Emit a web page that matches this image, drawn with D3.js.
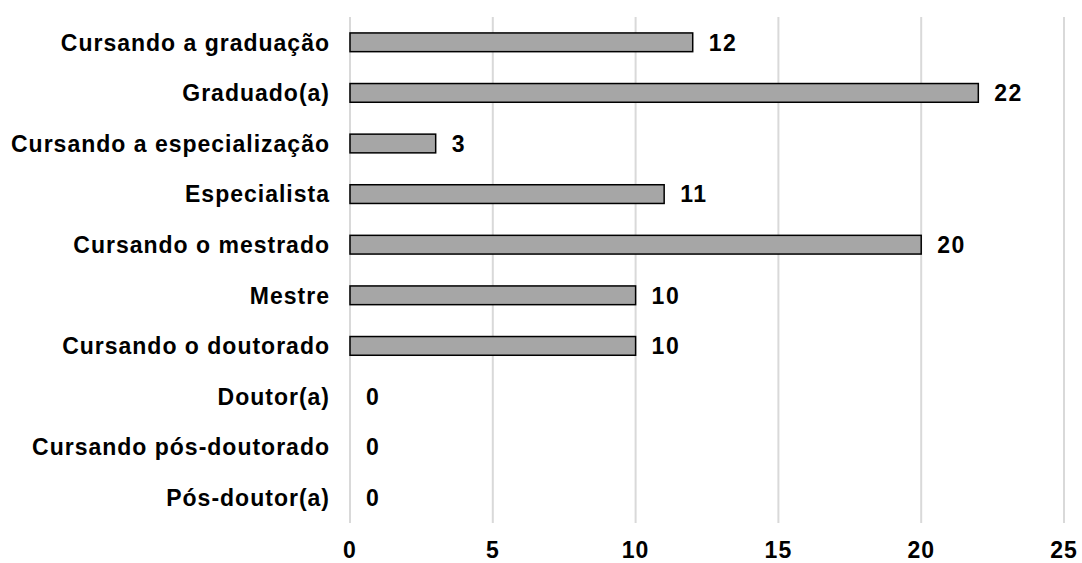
<!DOCTYPE html>
<html>
<head>
<meta charset="utf-8">
<script src="https://cdn.jsdelivr.net/npm/d3@7"></script>
<style>
  html, body { margin: 0; padding: 0; background: #fff; }
  text { font-family: "Liberation Sans", Arial, sans-serif; font-weight: bold; fill: #000; }
</style>
</head>
<body>
<svg id="chart" width="1082" height="563"></svg>
<script>
// categories top to bottom, and the counts
const categories = [
  "Cursando a graduação",
  "Graduado(a)",
  "Cursando a especialização",
  "Especialista",
  "Cursando o mestrado",
  "Mestre",
  "Cursando o doutorado",
  "Doutor(a)",
  "Cursando pós-doutorado",
  "Pós-doutor(a)"
];
const counts = [12, 22, 3, 11, 20, 10, 10, 0, 0, 0];
const xTicks = [0, 5, 10, 15, 20, 25];

const svg = d3.select("#chart");
const margin = { top: 17, right: 18, bottom: 40, left: 350 };
const width = 1082 - margin.left - margin.right;
const height = 563 - margin.top - margin.bottom;

const chart = svg.append("g").attr("transform", `translate(${margin.left},${margin.top})`);

const x = d3.scaleLinear().domain([0, 25]).range([0, width]);
const y = d3.scaleBand().domain(categories).range([0, height]).paddingInner(0.63).paddingOuter(0.315);

// gridlines
chart.append("g").selectAll("line").data(xTicks).enter().append("line")
  .attr("x1", d => x(d)).attr("x2", d => x(d))
  .attr("y1", 0).attr("y2", height)
  .attr("stroke", "#d9d9d9").attr("stroke-width", 2);

// x tick labels
chart.append("g").selectAll("text").data(xTicks).enter().append("text")
  .attr("x", d => x(d)).attr("y", height + 35)
  .attr("text-anchor", "middle").style("font-size", "23px").style("letter-spacing", "1px")
  .text(d => d);

// category labels
chart.append("g").selectAll("text").data(categories).enter().append("text")
  .attr("x", -20).attr("y", d => y(d) + y.bandwidth() / 2)
  .attr("dy", "0.36em").attr("text-anchor", "end")
  .style("font-size", "23px").style("letter-spacing", "1px")
  .text(d => d);

const rows = categories.map((c, i) => ({ c, v: counts[i] }));

chart.selectAll("rect.bar").data(rows.filter(d => d.v > 0)).enter().append("rect")
  .attr("class", "bar")
  .attr("x", x(0)).attr("y", d => y(d.c))
  .attr("width", d => x(d.v) - x(0)).attr("height", y.bandwidth())
  .attr("fill", "#a6a6a6").attr("stroke", "#000").attr("stroke-width", 1.5);

chart.selectAll("text.val").data(rows).enter().append("text")
  .attr("class", "val")
  .attr("x", d => x(d.v) + 16).attr("y", d => y(d.c) + y.bandwidth() / 2)
  .attr("dy", "0.36em").style("font-size", "23px").style("letter-spacing", "1.5px")
  .text(d => d.v);
</script>
</body>
</html>
